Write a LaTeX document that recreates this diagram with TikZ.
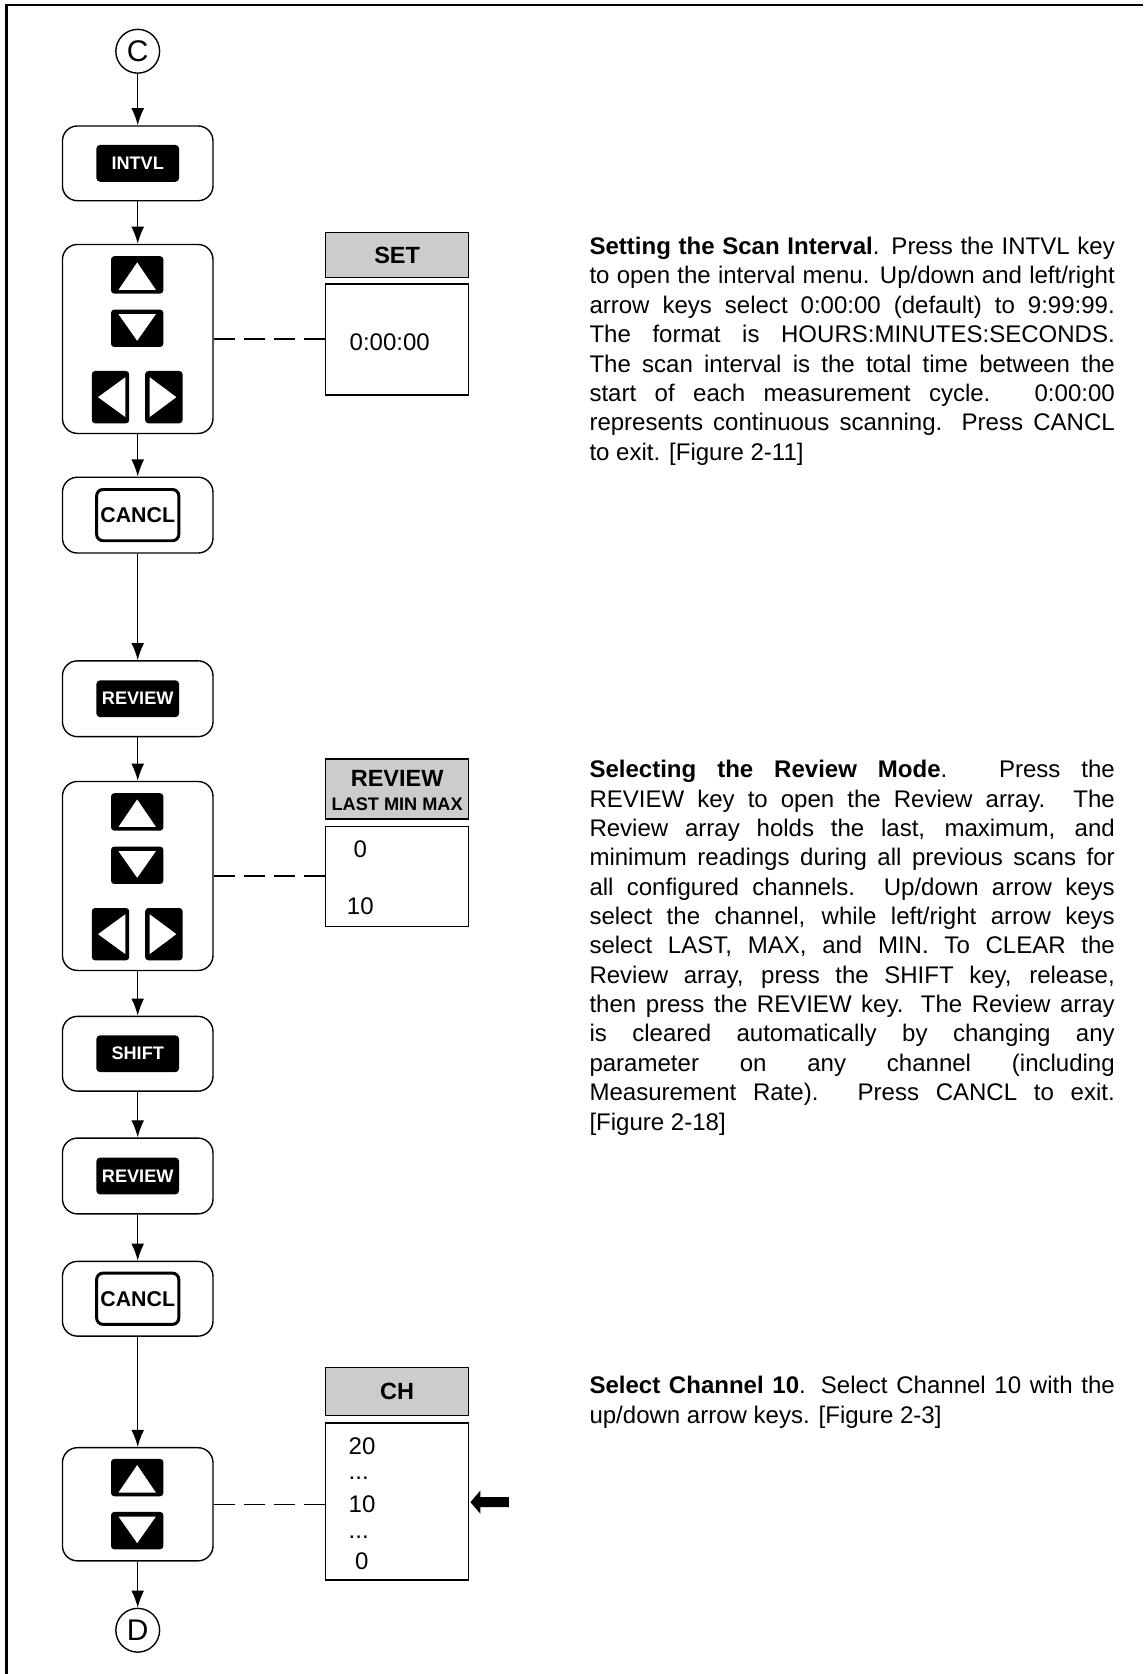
\documentclass[tikz,border=0pt]{standalone}
\usepackage{fontspec}
\setmainfont{Liberation Sans}
\usetikzlibrary{arrows.meta,calc}

\tikzset{
  conn/.style={draw,circle,minimum size=41pt,inner sep=0pt,line width=1.3pt,font=\fontsize{28}{28}\selectfont},
  panel/.style={draw,rounded corners=14pt,line width=1.3pt,minimum width=141pt},
  blackkey/.style={fill=black,rounded corners=3.5pt,text=white,inner sep=0pt,minimum width=77.5pt,minimum height=34.5pt,font=\fontsize{17}{17}\selectfont\bfseries},
  framekey/.style={draw,line width=2.8pt,rounded corners=6pt,inner sep=0pt,minimum width=77pt,minimum height=48pt,font=\fontsize{20}{20}\selectfont\bfseries},
  arrowkey/.style={fill=black,rounded corners=3pt,inner sep=0pt},
  header/.style={draw,fill=black!20,line width=1.3pt,minimum width=134pt,font=\fontsize{22}{22}\selectfont\bfseries},
  display/.style={draw,line width=1.3pt,minimum width=134pt},
  digits/.style={inner sep=0pt,font=\fontsize{22.5}{22.5}\selectfont},
  flow/.style={->,line width=1.3pt},
  dashline/.style={line width=1.3pt,dash pattern=on 20pt off 8.3pt},
  para/.style={anchor=north west,inner sep=0pt,text width=492pt,align=justify,font=\fontsize{22.5}{27.5}\selectfont}
}

\newcommand\upkey[3]{\node[arrowkey,minimum width=49pt,minimum height=35pt] (#1) at (#2,#3) {};
  \fill[white] ($(#1.north)+(0,6)$) -- ($(#1.south)+(17.5,-3.7)$) -- ($(#1.south)+(-17.5,-3.7)$) -- cycle;}
\newcommand\downkey[3]{\node[arrowkey,minimum width=49pt,minimum height=35pt] (#1) at (#2,#3) {};
  \fill[white] ($(#1.south)+(0,-6)$) -- ($(#1.north)+(17.5,4.5)$) -- ($(#1.north)+(-17.5,4.5)$) -- cycle;}
\newcommand\leftkey[3]{\node[arrowkey,minimum width=35pt,minimum height=49pt] (#1) at (#2,#3) {};
  \fill[white] ($(#1.west)+(6,0)$) -- ($(#1.east)+(-3.7,-18.7)$) -- ($(#1.east)+(-3.7,18.7)$) -- cycle;}
\newcommand\rightkey[3]{\node[arrowkey,minimum width=35pt,minimum height=49pt] (#1) at (#2,#3) {};
  \fill[white] ($(#1.east)+(-6,0)$) -- ($(#1.west)+(4.3,-18.7)$) -- ($(#1.west)+(4.3,18.7)$) -- cycle;}

\begin{document}
\begin{tikzpicture}[x=1pt,y=-1pt,>={Latex[length=16pt,width=12pt]}]
\useasboundingbox (0,0) rectangle (1071,1568);
\draw[line width=2.3pt] (6.3,1568) -- (6.3,4.7) -- (1071,4.7);

\node[conn]                        (c)   at (129,48)     {C};
\node[panel,minimum height=70pt]   (p1)  at (129,153)    {};
\node[blackkey]                    (k1)  at (p1)         {INTVL};
\node[panel,minimum height=177pt]  (p2)  at (129,317.5)  {};
\upkey{u2}{128.5}{257.5}
\downkey{d2}{128.5}{307.5}
\leftkey{l2}{103.5}{372}
\rightkey{r2}{153.5}{372}
\node[panel,minimum height=71pt]   (p3)  at (129,482.5)  {};
\node[framekey]                    (k3)  at (p3)         {CANCL};
\node[panel,minimum height=71pt]   (p4)  at (129,654.5)  {};
\node[blackkey]                    (k4)  at (p4)         {REVIEW};
\node[panel,minimum height=177pt]  (p5)  at (129,820.5)  {};
\upkey{u5}{128.5}{760.5}
\downkey{d5}{128.5}{810.5}
\leftkey{l5}{103.5}{875}
\rightkey{r5}{153.5}{875}
\node[panel,minimum height=70pt]   (p6)  at (129,987)    {};
\node[blackkey]                    (k6)  at (p6)         {SHIFT};
\node[panel,minimum height=71pt]   (p7)  at (129,1101.5) {};
\node[blackkey]                    (k7)  at (p7)         {REVIEW};
\node[panel,minimum height=70pt]   (p8)  at (129,1216.5) {};
\node[framekey]                    (k8)  at (p8)         {CANCL};
\node[panel,minimum height=106pt]  (p9)  at (129,1409)   {};
\upkey{u9}{128.5}{1384}
\downkey{d9}{128.5}{1433.7}
\node[conn]                        (d)   at (129,1527)   {D};

\node[header,minimum height=42pt]   (h1) at (372,239)    {SET};
\node[display,minimum height=104pt] (s1) at (372,318)    {};
\node[digits,anchor=base west]      (v1) at (327.3,328)  {0:00:00};

\node[header,minimum height=56pt]   (h2) at (372,739)    {};
\node[inner sep=0pt,font=\fontsize{22}{22}\selectfont\bfseries] (h2a) at (372,729) {REVIEW};
\node[inner sep=0pt,font=\fontsize{17}{17}\selectfont\bfseries] (h2b) at (372,753) {LAST MIN MAX};
\node[display,minimum height=94pt]  (s2) at (372,821)    {};
\node[digits,anchor=base]           (v2a) at (337.5,803) {0};
\node[digits,anchor=base]           (v2b) at (337.5,857) {10};

\node[header,minimum height=45pt]   (h3) at (372,1303.5) {CH};
\node[display,minimum height=147pt] (s3) at (372,1406.5) {};
\node[digits,anchor=base west]      (v3a) at (326.4,1362)   {20};
\node[digits,anchor=base west]      (v3b) at (326.4,1386)   {...};
\node[digits,anchor=base west]      (v3c) at (326.4,1416.7) {10};
\node[digits,anchor=base west]      (v3d) at (326.4,1441)   {...};
\node[digits,anchor=base]           (v3e) at (339,1470.4)   {0};
\fill ($(s3.east)+(1,0.5)$) -- ++(9.4,-11) -- ++(0,6.3) -- ++(26.5,0) -- ++(0,9.4) -- ++(-26.5,0) -- ++(0,6.3) -- cycle;

\draw[flow]     (c)  edge (p1);
\draw[flow]     (p1) edge (p2);
\draw[flow]     (p2) edge (p3);
\draw[flow]     (p3) edge (p4);
\draw[flow]     (p4) edge (p5);
\draw[flow]     (p5) edge (p6);
\draw[flow]     (p6) edge (p7);
\draw[flow]     (p7) edge (p8);
\draw[flow]     (p8) edge (p9);
\draw[flow]     (p9) edge (d);
\draw[dashline] (p2) edge (p2 -| s1.west);
\draw[dashline] (p5) edge (p5 -| s2.west);
\draw[dashline] (p9) edge (p9 -| s3.west);

\node[para] (t1) at (552,222) {\textbf{Setting the Scan Interval}.  Press the INTVL key\linebreak
to open the interval menu.  Up/down and left/right\linebreak
arrow keys select 0:00:00 (default) to 9:99:99.\linebreak
The format is HOURS:MINUTES:SECONDS.\linebreak
The scan interval is the total time between the\linebreak
start of each measurement cycle.  0:00:00\linebreak
represents continuous scanning.  Press CANCL\linebreak{}
to exit.  [Figure 2-11]};

\node[para] (t2) at (552,712) {\textbf{Selecting the Review Mode}.  Press the\linebreak
REVIEW key to open the Review array.  The\linebreak
Review array holds the last, maximum, and\linebreak
minimum readings during all previous scans for\linebreak
all configured channels.  Up/down arrow keys\linebreak
select the channel, while left/right arrow keys\linebreak
select LAST, MAX, and MIN.  To CLEAR the\linebreak
Review array, press the SHIFT key, release,\linebreak
then press the REVIEW key.  The Review array\linebreak
is cleared automatically by changing any\linebreak
parameter on any channel (including\linebreak
Measurement Rate).  Press CANCL to exit.\linebreak{}
[Figure 2-18]};

\node[para] (t3) at (552,1289) {\textbf{Select Channel 10}.  Select Channel 10 with the\linebreak{}
up/down arrow keys.  [Figure 2-3]};
\end{tikzpicture}
\end{document}
